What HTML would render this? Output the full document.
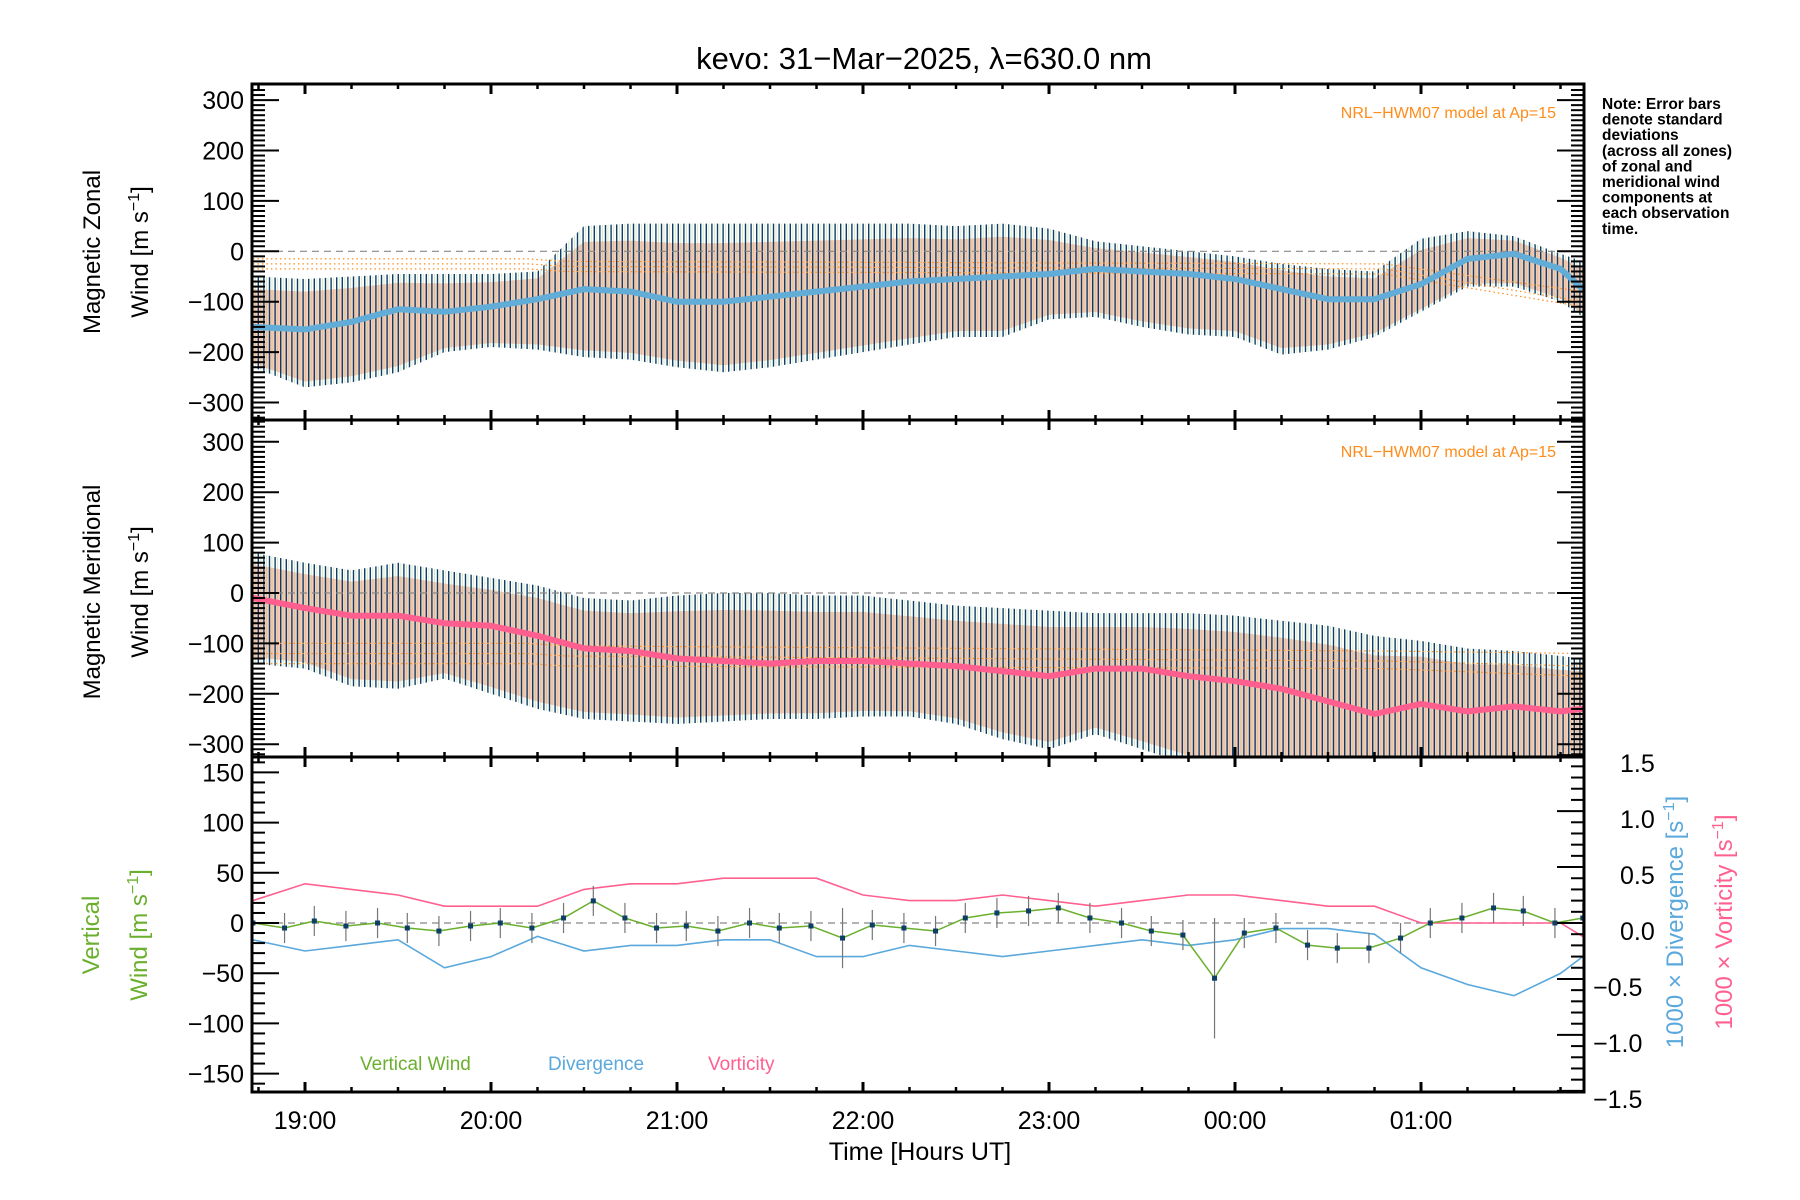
<!DOCTYPE html>
<html><head><meta charset="utf-8"><style>
html,body{margin:0;padding:0;background:#fff}
svg{display:block;font-family:"Liberation Sans",sans-serif}
</style></head><body>
<svg id="chart" width="1800" height="1200" viewBox="0 0 1800 1200" xmlns="http://www.w3.org/2000/svg">
<defs>
<pattern id="bars" width="5.6" height="10" patternUnits="userSpaceOnUse"><rect x="0" y="0" width="1.4" height="10" fill="#0d3f66"/><rect x="2.8" y="0" width="0.8" height="10" fill="#8fbf6a" opacity="0.45"/></pattern>
<clipPath id="c1"><rect x="252" y="84" width="1332" height="336"/></clipPath>
<clipPath id="c2"><rect x="252" y="420" width="1332" height="337"/></clipPath>
<clipPath id="c3"><rect x="252" y="757" width="1332" height="335"/></clipPath>
</defs>
<g id="layer"></g>
</svg>
<script>
// ---- data ----
const T = [18.72,19.0,19.25,19.5,19.75,20.0,20.25,20.5,20.75,21.0,21.25,21.5,21.75,22.0,22.25,22.5,22.75,23.0,23.25,23.5,23.75,24.0,24.25,24.5,24.75,25.0,25.25,25.5,25.75,25.87];
const zonalMean = [-150,-155,-140,-115,-120,-110,-95,-75,-80,-100,-100,-90,-80,-70,-60,-55,-50,-45,-35,-40,-45,-55,-75,-95,-95,-65,-15,-5,-35,-75];
const zonalTop = [-50,-55,-50,-45,-45,-45,-40,50,55,55,55,55,55,55,55,50,55,45,20,10,0,-10,-25,-35,-40,25,40,30,-5,-20];
const zonalBottom = [-230,-270,-260,-240,-200,-190,-195,-210,-215,-230,-240,-230,-215,-200,-185,-170,-170,-135,-130,-150,-165,-170,-205,-195,-170,-120,-70,-70,-100,-130];
const merMean = [-10,-30,-45,-45,-60,-65,-85,-110,-115,-130,-135,-140,-135,-135,-140,-145,-155,-165,-150,-150,-165,-175,-190,-215,-240,-220,-235,-225,-235,-230];
const merTop = [80,60,45,60,45,30,15,-10,-15,-5,0,0,-5,-5,-15,-25,-30,-35,-40,-40,-40,-45,-55,-65,-85,-95,-110,-115,-125,-130];
const merBottom = [-140,-150,-185,-190,-170,-200,-230,-250,-255,-260,-255,-250,-250,-245,-245,-260,-290,-310,-280,-310,-340,-340,-340,-340,-340,-340,-340,-340,-340,-340];
const divergence = [-0.15,-0.25,-0.2,-0.15,-0.4,-0.3,-0.12,-0.25,-0.2,-0.2,-0.15,-0.15,-0.3,-0.3,-0.2,-0.25,-0.3,-0.25,-0.2,-0.15,-0.2,-0.15,-0.05,-0.05,-0.1,-0.4,-0.55,-0.65,-0.45,-0.3];
const vorticity = [0.2,0.35,0.3,0.25,0.15,0.15,0.15,0.3,0.35,0.35,0.4,0.4,0.4,0.25,0.2,0.2,0.25,0.2,0.15,0.2,0.25,0.25,0.2,0.15,0.15,0.0,0.0,0.0,0.0,-0.12];
const VT = [18.72,18.89,19.05,19.22,19.39,19.55,19.72,19.89,20.05,20.22,20.39,20.55,20.72,20.89,21.05,21.22,21.39,21.55,21.72,21.89,22.05,22.22,22.39,22.55,22.72,22.89,23.05,23.22,23.39,23.55,23.72,23.89,24.05,24.22,24.39,24.55,24.72,24.89,25.05,25.22,25.39,25.55,25.72,25.87];
const vertical = [0,-5,2,-3,0,-5,-8,-3,0,-5,5,22,5,-5,-3,-8,0,-5,-3,-15,-2,-5,-8,5,10,12,15,5,0,-8,-12,-55,-10,-5,-22,-25,-25,-15,0,5,15,12,0,5];
const verticalErr = [15,15,15,15,15,15,15,15,15,15,15,15,15,15,15,15,15,15,15,30,15,15,15,15,15,15,15,15,15,15,15,60,15,15,15,15,15,15,15,15,15,15,15,15];
const modelT = [18.72,20.2,20.4,24.8,25.87];
const zonalModel = [[-15,-15,-20,-25,-80],[-25,-25,-30,-35,-100],[-35,-35,-40,-45,-110]];
const merModel = [[-100,-100,-105,-115,-120],[-120,-120,-125,-135,-145],[-140,-140,-145,-150,-165]];
const hourTicks = [19,20,21,22,23,24,25];
const hourLabels = ["19:00","20:00","21:00","22:00","23:00","00:00","01:00"];
const windTicks = [300,200,100,0,-100,-200,-300];
const vertTicks = [150,100,50,0,-50,-100,-150];
const rightTicks = [1.5,1.0,0.5,0.0,-0.5,-1.0,-1.5];

// ---- scales ----
const X0=252, X1=1584;
const x = t => 305 + (t-19)*186;
const y1 = v => 251.3 - v*0.504;
const y2 = v => 593 - v*0.504;
const y3 = v => 923 - v*1.004;
const y3r = v => 923 - v*111.9;

const NS="http://www.w3.org/2000/svg";
const layer=document.getElementById('layer');
function el(tag,attrs,parent,text){const e=document.createElementNS(NS,tag);for(const k in attrs)e.setAttribute(k,attrs[k]);if(text!==undefined)e.textContent=text;(parent||layer).appendChild(e);return e;}
function poly(ts,vs,ys){return ts.map((t,i)=>x(t).toFixed(1)+','+ys(vs[i]).toFixed(1)).join(' ');}
function band(ts,top,bot,ys){return ts.map((t,i)=>x(t)+','+ys(top[i])).concat(ts.map((t,i)=>[t,i]).reverse().map(([t,i])=>x(t)+','+ys(bot[i]))).join(' ');}

function windPanel(clip,ys,mean,top,bot,model,color,name){
  const g=el('g',{'clip-path':'url(#'+clip+')'});
  
  
  const mid=mean.map((m,i)=>m+(top[i]-m)*0.75), midb=mean.map((m,i)=>m+(bot[i]-m)*0.9);
  const bg=el('polygon',{points:band(T,mid,midb,ys),fill:'#f7b8a0',opacity:0.75},g);
  
  
  const bb=el('polygon',{points:band(T,top,bot,ys),fill:'url(#bars)'},g);
  
  
  el('line',{x1:X0,x2:X1,y1:ys(0),y2:ys(0),stroke:'#888','stroke-dasharray':'7,5','stroke-width':1.2},g);
  model.forEach((m,k)=>{const l=el('polyline',{points:poly(modelT,m,ys),fill:'none',stroke:'#ff8c1a','stroke-width':1.2,'stroke-dasharray':'1.5,3'},g);
    
    });
  const ml=el('polyline',{points:poly(T,mean,ys),fill:'none',stroke:color,'stroke-width':6,'stroke-linejoin':'round'},g);
  
  
}
windPanel('c1',y1,zonalMean,zonalTop,zonalBottom,zonalModel,'#62acd8','zonal');
windPanel('c2',y2,merMean,merTop,merBottom,merModel,'#ff5f8f','meridional');

// panel 3
const g3=el('g',{'clip-path':'url(#c3)'});


el('line',{x1:X0,x2:X1,y1:y3(0),y2:y3(0),stroke:'#888','stroke-dasharray':'7,5','stroke-width':1.2},g3);
const vo=el('polyline',{points:poly(T,vorticity,y3r),fill:'none',stroke:'#ff6090','stroke-width':1.6},g3);


const dv=el('polyline',{points:poly(T,divergence,y3r),fill:'none',stroke:'#5aa8dc','stroke-width':1.6},g3);


VT.forEach((t,i)=>{const e=el('line',{x1:x(t),x2:x(t),y1:y3(vertical[i]+verticalErr[i]),y2:y3(vertical[i]-verticalErr[i]),stroke:'#777','stroke-width':1.2},g3);
  
  });
const vl=el('polyline',{points:poly(VT,vertical,y3),fill:'none',stroke:'#6ab02e','stroke-width':1.5},g3);


VT.forEach((t,i)=>{const p=el('rect',{x:x(t)-2.5,y:y3(vertical[i])-2.5,width:5,height:5,fill:'#0d3f66'},g3);
  
  });

// axes & ticks
const panels=[[84,420],[420,757],[757,1092]];
panels.forEach(([top,bot],pi)=>{
  const fr=el('rect',{x:X0,y:top,width:X1-X0,height:bot-top,fill:'none',stroke:'#000','stroke-width':3});
  
  
  for(let t=18.75;t<25.9;t+=0.25){const major=Math.abs(t-Math.round(t))<0.01;const L=major?10:5;
    el('line',{x1:x(t),x2:x(t),y1:bot,y2:bot-L,stroke:'#000','stroke-width':major?3:2.5});
    el('line',{x1:x(t),x2:x(t),y1:top,y2:top+L,stroke:'#000','stroke-width':major?3:2.5});}
});
[[y1,84,420],[y2,420,757]].forEach(([ys,top,bot])=>{
  for(let v=-340;v<=340;v+=10){const yy=ys(v);if(yy<top+1||yy>bot-1)continue;const major=v%100===0;const L=major?27:13;
    el('line',{x1:X0,x2:X0+L,y1:yy,y2:yy,stroke:'#000','stroke-width':2});
    el('line',{x1:X1,x2:X1-L,y1:yy,y2:yy,stroke:'#000','stroke-width':2});}
  windTicks.forEach(v=>{const t=el('text',{x:244,y:ys(v)+9,'text-anchor':'end','font-size':25},layer,(v<0?'\u2212':'')+Math.abs(v));
    
    });
});
for(let v=-170;v<=170;v+=10){const yy=y3(v);if(yy<758||yy>1091)continue;const major=v%50===0;
  el('line',{x1:X0,x2:X0+(major?27:13),y1:yy,y2:yy,stroke:'#000','stroke-width':2});}
vertTicks.forEach(v=>{const t=el('text',{x:244,y:y3(v)+9,'text-anchor':'end','font-size':25},layer,(v<0?'\u2212':'')+Math.abs(v));
  
  });
for(let v=-1.5;v<=1.51;v+=0.1){const yy=y3r(v);const major=Math.abs(v*2-Math.round(v*2))<0.01;
  el('line',{x1:X1,x2:X1-(major?27:13),y1:yy,y2:yy,stroke:'#000','stroke-width':2});}
rightTicks.forEach(v=>{const t=el('text',{x:v<0?1593:1620,y:y3r(v)+17,'font-size':25},layer,(v<0?'\u2212':'')+Math.abs(v).toFixed(1));
  
  });
hourTicks.forEach((h,i)=>{const t=el('text',{x:x(h),y:1129,'text-anchor':'middle','font-size':25},layer,hourLabels[i]);
  
  });
</script>
<script>
(function(){
const NS="http://www.w3.org/2000/svg";const svg=document.getElementById('chart');
function txt(name,attrs,html){const e=document.createElementNS(NS,'text');for(const k in attrs)e.setAttribute(k,attrs[k]);e.innerHTML=html;
  
  
  svg.appendChild(e);return e;}
txt('chart-title',{x:924,y:69,'text-anchor':'middle','font-size':31},'kevo: 31\u2212Mar\u22122025, \u03bb=630.0 nm');
txt('x-axis-title',{x:920,y:1160,'text-anchor':'middle','font-size':25},'Time [Hours UT]');
txt('zonal-y-title-1',{transform:'translate(100,252) rotate(-90)','text-anchor':'middle','font-size':24},'Magnetic Zonal');
txt('zonal-y-title-2',{transform:'translate(148,252) rotate(-90)','text-anchor':'middle','font-size':24},'Wind [m s<tspan dy="-9" font-size="16">\u22121</tspan><tspan dy="9">]</tspan>');
txt('meridional-y-title-1',{transform:'translate(100,592) rotate(-90)','text-anchor':'middle','font-size':24},'Magnetic Meridional');
txt('meridional-y-title-2',{transform:'translate(148,592) rotate(-90)','text-anchor':'middle','font-size':24},'Wind [m s<tspan dy="-9" font-size="16">\u22121</tspan><tspan dy="9">]</tspan>');
txt('vertical-y-title-1',{transform:'translate(99,935) rotate(-90)','text-anchor':'middle','font-size':24,fill:'#6ab02e'},'Vertical');
txt('vertical-y-title-2',{transform:'translate(147,935) rotate(-90)','text-anchor':'middle','font-size':24,fill:'#6ab02e'},'Wind [m s<tspan dy="-9" font-size="16">\u22121</tspan><tspan dy="9">]</tspan>');
txt('divergence-axis-title',{transform:'translate(1683,922) rotate(-90)','text-anchor':'middle','font-size':24,fill:'#5aa8dc'},'1000 \u00d7 Divergence [s<tspan dy="-9" font-size="16">\u22121</tspan><tspan dy="9">]</tspan>');
txt('vorticity-axis-title',{transform:'translate(1732,922) rotate(-90)','text-anchor':'middle','font-size':24,fill:'#ff6090'},'1000 \u00d7 Vorticity [s<tspan dy="-9" font-size="16">\u22121</tspan><tspan dy="9">]</tspan>');
txt('model-label-zonal',{x:1556,y:118,'text-anchor':'end','font-size':16,fill:'#ff8c1a'},'NRL\u2212HWM07 model at Ap=15');
txt('model-label-meridional',{x:1556,y:457,'text-anchor':'end','font-size':16,fill:'#ff8c1a'},'NRL\u2212HWM07 model at Ap=15');
txt('legend-vertical-wind',{x:360,y:1070,'font-size':19,fill:'#6ab02e'},'Vertical Wind');
txt('legend-divergence',{x:548,y:1070,'font-size':19,fill:'#5aa8dc'},'Divergence');
txt('legend-vorticity',{x:708,y:1070,'font-size':19,fill:'#ff6090'},'Vorticity');
const note=['Note: Error bars','denote standard','deviations','(across all zones)','of zonal and','meridional wind','components at','each observation','time.'];
note.forEach((s,i)=>txt('note-line',{x:1602,y:109+i*15.6,'font-size':15.5,'font-weight':'bold'},s));
})();
</script>
</body></html>
